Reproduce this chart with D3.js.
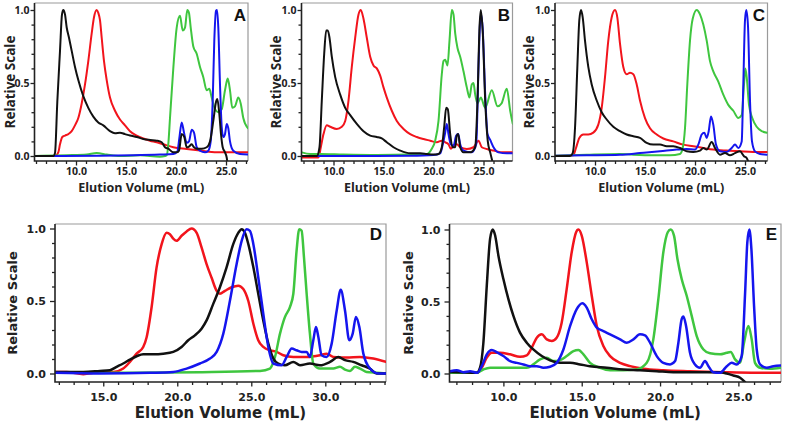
<!DOCTYPE html>
<html><head><meta charset="utf-8">
<script src="https://cdn.jsdelivr.net/npm/d3@7"></script>
<style>body{margin:0;background:#fff}</style>
</head><body><svg id="c" width="789" height="425"></svg>
<script>
// ---------- data ----------
const panelLabels = ["A","B","C","D","E"];
const xTitle = "Elution Volume (mL)";
const yTitle = "Relative Scale";
const xTicksA = [10,15,20,25], xTicksB = [10,15,20,25], xTicksC = [10,15,20,25];
const xTicksD = [15,20,25,30], xTicksE = [10,15,20,25];
const yTicks = [0,0.5,1.0];
const colors = {red:"#f2141c", green:"#3fc63f", blue:"#1515ee", black:"#111111"};

// Panel A
const aBlack = [[5.9,0],[7.73,0],[7.9,0.02],[8.13,0.37],[8.4,0.72],[8.6,0.97],[8.73,1.0],[8.9,0.97],[9.07,0.88],[9.3,0.81],[9.57,0.72],[9.9,0.61],[10.23,0.52],[10.73,0.41],[11.23,0.33],[11.73,0.27],[12.23,0.23],[12.73,0.21],[13.4,0.17],[13.9,0.155],[14.4,0.16],[14.9,0.15],[15.4,0.14],[16.07,0.13],[16.73,0.117],[17.4,0.11],[18.07,0.105],[18.57,0.094],[18.9,0.06],[19.23,0.05],[19.73,0.025],[20.07,0.025],[20.3,0.037],[20.57,0.15],[20.83,0.13],[21.07,0.06],[21.3,0.065],[21.57,0.08],[21.8,0.06],[22.07,0.05],[22.57,0.05],[23.07,0.06],[23.4,0.10],[23.73,0.24],[24.0,0.37],[24.13,0.39],[24.33,0.29],[24.5,0.15],[24.67,0.06],[24.9,0.025],[25.07,-0.01],[25.17,-0.06]];
const aRed = [[5.9,0],[7.9,0],[8.23,0.025],[8.4,0.08],[8.63,0.13],[8.9,0.14],[9.23,0.15],[9.57,0.17],[9.9,0.21],[10.23,0.26],[10.57,0.36],[10.9,0.49],[11.23,0.65],[11.57,0.84],[11.8,0.95],[12.07,1.0],[12.23,0.98],[12.4,0.93],[12.57,0.81],[12.8,0.65],[13.07,0.52],[13.4,0.40],[13.9,0.31],[14.4,0.25],[14.9,0.21],[15.4,0.17],[16.07,0.14],[16.73,0.12],[17.4,0.105],[18.07,0.094],[18.73,0.08],[19.73,0.06],[21.07,0.048],[22.4,0.037],[24.07,0.025],[25.73,0.025],[27.2,0.025]];
const aGreen = [[5.9,0],[9.07,0.005],[11.07,0.01],[12.07,0.02],[13.07,0.01],[14.4,0],[16.4,0.005],[18.4,-0.005],[18.9,0],[19.07,0.005],[19.23,0.08],[19.4,0.26],[19.73,0.6],[20.07,0.88],[20.4,0.96],[20.67,0.86],[20.9,0.88],[21.13,1.0],[21.3,0.98],[21.47,0.88],[21.73,0.75],[22.07,0.70],[22.4,0.61],[22.73,0.54],[23.07,0.45],[23.33,0.46],[23.57,0.40],[23.9,0.32],[24.23,0.30],[24.57,0.32],[24.9,0.45],[25.17,0.53],[25.4,0.45],[25.63,0.33],[25.9,0.34],[26.23,0.40],[26.47,0.36],[26.73,0.26],[27.2,0.19]];
const aBlue = [[5.9,0],[12.4,0.002],[15.73,0.005],[18.4,0.01],[19.73,0.014],[20.13,0.03],[20.33,0.12],[20.57,0.23],[20.8,0.16],[21.07,0.09],[21.3,0.10],[21.57,0.18],[21.8,0.16],[22.07,0.06],[22.4,0.036],[22.9,0.025],[23.23,0.036],[23.47,0.10],[23.67,0.38],[23.83,0.79],[24.0,0.995],[24.1,1.0],[24.23,0.88],[24.4,0.49],[24.57,0.2],[24.73,0.13],[24.9,0.15],[25.07,0.22],[25.23,0.19],[25.4,0.1],[25.73,0.036],[26.4,0.014],[27.2,0.01]];

// Panel B
const bBlack = [[6.83,0],[8.33,0],[8.6,0.06],[8.83,0.38],[9.07,0.70],[9.27,0.86],[9.43,0.86],[9.6,0.81],[9.83,0.68],[10.17,0.54],[10.67,0.42],[11.17,0.33],[11.67,0.28],[12.33,0.22],[13.0,0.17],[13.67,0.14],[14.33,0.13],[14.83,0.12],[15.33,0.094],[16.0,0.06],[16.67,0.037],[17.67,0.018],[18.67,0.018],[19.33,0.014],[20.0,0.01],[20.5,0.014],[20.83,0.06],[21.07,0.2],[21.27,0.33],[21.43,0.32],[21.67,0.15],[21.9,0.06],[22.17,0.06],[22.33,0.14],[22.47,0.15],[22.67,0.06],[23.0,0.025],[23.67,0.025],[24.17,0.06],[24.4,0.38],[24.6,0.88],[24.73,1.0],[24.93,0.84],[25.17,0.38],[25.43,0.1],[25.67,0.025],[25.9,-0.04]];
const bRed = [[6.83,-0.01],[8.5,-0.01],[8.73,0.06],[9.0,0.15],[9.33,0.21],[9.67,0.2],[10.33,0.185],[10.83,0.2],[11.17,0.24],[11.5,0.38],[11.83,0.61],[12.17,0.81],[12.5,0.97],[12.73,1.0],[13.0,0.94],[13.33,0.81],[13.67,0.68],[14.0,0.62],[14.33,0.60],[14.67,0.55],[15.0,0.47],[15.33,0.40],[15.83,0.31],[16.33,0.24],[17.0,0.185],[17.67,0.15],[18.33,0.13],[19.0,0.116],[19.67,0.105],[20.33,0.094],[20.83,0.105],[21.17,0.094],[21.5,0.08],[21.73,0.05],[22.0,0.07],[22.33,0.08],[22.67,0.06],[23.33,0.048],[24.0,0.06],[24.5,0.105],[24.83,0.06],[25.33,0.048],[26.0,0.037],[27.0,0.025],[27.93,0.025]];
const bGreen = [[6.83,0.025],[7.67,0.014],[8.67,0.014],[11.0,0.01],[14.33,0.007],[17.67,0.01],[19.33,0.014],[19.83,0.05],[20.17,0.105],[20.5,0.24],[20.83,0.56],[21.0,0.65],[21.17,0.66],[21.4,0.62],[21.6,0.79],[21.83,1.0],[22.0,0.97],[22.17,0.84],[22.4,0.74],[22.67,0.68],[23.0,0.58],[23.33,0.47],[23.6,0.40],[23.83,0.49],[24.0,0.50],[24.17,0.42],[24.4,0.36],[24.73,0.40],[25.17,0.33],[25.83,0.45],[26.4,0.34],[26.8,0.36],[27.33,0.46],[27.67,0.31],[27.93,0.22]];
const bBlue = [[6.83,0],[12.67,0],[17.67,0.002],[20.0,0.007],[20.67,0.018],[20.93,0.08],[21.17,0.16],[21.33,0.22],[21.5,0.15],[21.73,0.08],[22.0,0.07],[22.27,0.14],[22.47,0.15],[22.67,0.08],[23.0,0.037],[23.83,0.025],[24.27,0.08],[24.5,0.61],[24.67,0.93],[24.77,0.97],[24.93,0.86],[25.17,0.42],[25.4,0.15],[25.67,0.11],[26.0,0.06],[26.5,0.025],[27.33,0.018],[27.93,0.018]];

// Panel C
const cBlack = [[6.0,0],[7.5,0],[7.77,0.02],[8.0,0.19],[8.23,0.6],[8.43,0.93],[8.6,1.0],[8.77,0.95],[9.0,0.79],[9.33,0.61],[9.67,0.49],[10.17,0.38],[10.67,0.30],[11.17,0.25],[11.83,0.20],[12.5,0.17],[13.17,0.147],[13.83,0.135],[14.5,0.124],[15.17,0.09],[15.83,0.078],[16.5,0.078],[17.17,0.067],[17.83,0.067],[18.5,0.055],[19.17,0.032],[19.83,0.028],[20.5,0.037],[20.83,0.055],[21.17,0.044],[21.67,0.096],[22.0,0.055],[22.5,0.009],[23.0,0.02],[23.5,0.005],[24.0,0.02],[24.5,0.032],[24.9,-0.002],[25.17,-0.014],[25.33,-0.04]];
const cRed = [[6.0,0],[7.83,0.005],[8.1,0.055],[8.43,0.124],[8.83,0.147],[9.33,0.147],[9.83,0.16],[10.33,0.215],[10.67,0.33],[11.0,0.54],[11.33,0.79],[11.67,0.95],[12.0,1.0],[12.23,0.95],[12.5,0.77],[12.83,0.61],[13.17,0.56],[13.5,0.57],[13.83,0.56],[14.17,0.49],[14.5,0.38],[15.0,0.26],[15.5,0.19],[16.17,0.147],[16.83,0.12],[17.83,0.1],[18.83,0.078],[19.83,0.067],[20.83,0.055],[21.83,0.044],[23.17,0.037],[24.5,0.032],[25.83,0.028],[27.2,0.028]];
const cGreen = [[6.0,0.002],[9.17,0.009],[12.5,0.014],[13.83,0.009],[15.83,0.005],[17.5,0.005],[18.5,0.014],[18.77,0.055],[19.0,0.19],[19.23,0.49],[19.5,0.79],[19.77,0.94],[20.17,1.0],[20.5,0.97],[20.83,0.90],[21.17,0.79],[21.5,0.65],[21.83,0.58],[22.33,0.51],[22.83,0.42],[23.33,0.35],[23.83,0.31],[24.33,0.26],[24.67,0.28],[24.9,0.49],[25.03,0.6],[25.17,0.54],[25.4,0.35],[25.73,0.26],[26.17,0.2],[26.67,0.17],[27.2,0.16]];
const cBlue = [[6.0,0.002],[9.17,0.005],[12.5,0.009],[14.5,0.02],[16.5,0.032],[18.17,0.044],[19.17,0.048],[20.0,0.044],[20.33,0.078],[20.67,0.147],[20.93,0.16],[21.17,0.124],[21.37,0.17],[21.6,0.27],[21.83,0.215],[22.1,0.078],[22.5,0.032],[23.17,0.028],[23.67,0.055],[24.0,0.078],[24.33,0.055],[24.67,0.1],[24.83,0.49],[25.0,0.93],[25.13,1.0],[25.3,0.89],[25.5,0.38],[25.7,0.1],[26.0,0.032],[26.5,0.014],[27.2,0.009]];

// Panel D
const dRed = [[11.73,0.01],[12.52,0.01],[13.65,-0.005],[14.77,0.01],[15.68,0.01],[16.35,0.034],[16.8,0.08],[17.25,0.137],[17.7,0.183],[17.93,0.25],[18.27,0.46],[18.6,0.73],[18.94,0.89],[19.28,0.97],[19.5,0.96],[19.73,0.93],[19.95,0.915],[20.29,0.95],[20.63,0.98],[20.97,1.0],[21.31,0.97],[21.64,0.87],[21.98,0.755],[22.32,0.66],[22.66,0.57],[22.88,0.55],[23.22,0.57],[23.67,0.595],[24.12,0.606],[24.46,0.583],[24.8,0.5],[25.14,0.343],[25.47,0.229],[25.81,0.183],[26.26,0.16],[26.71,0.149],[27.16,0.126],[27.84,0.114],[28.74,0.114],[29.64,0.126],[30.09,0.137],[30.54,0.114],[31.44,0.11],[32.34,0.114],[33.24,0.103],[34.1,0.08]];
const dBlack = [[11.73,0.011],[13.65,0.011],[14.77,0.018],[15.45,0.023],[15.9,0.046],[16.35,0.069],[16.8,0.096],[17.25,0.119],[17.7,0.133],[18.38,0.133],[19.05,0.137],[19.73,0.149],[20.29,0.183],[20.74,0.229],[21.19,0.263],[21.64,0.309],[21.98,0.366],[22.43,0.48],[22.88,0.595],[23.33,0.732],[23.78,0.892],[24.12,0.97],[24.35,0.995],[24.57,0.97],[24.8,0.892],[25.14,0.732],[25.47,0.55],[25.81,0.366],[26.15,0.206],[26.49,0.103],[26.82,0.069],[27.27,0.057],[27.84,0.08],[28.29,0.057],[28.96,0.069],[29.64,0.057],[30.32,0.08],[30.88,0.114],[31.33,0.092],[31.89,0.08],[32.45,0.057],[33.02,0.034],[33.47,0.0],[34.1,0.0]];
const dBlue = [[11.73,0.005],[14.77,0],[18.15,0.005],[19.73,0.011],[20.63,0.034],[21.53,0.069],[22.21,0.103],[22.66,0.149],[23.11,0.275],[23.56,0.503],[24.01,0.755],[24.35,0.915],[24.68,0.995],[24.91,0.984],[25.14,0.892],[25.47,0.664],[25.81,0.412],[26.15,0.183],[26.49,0.069],[27.05,0.057],[27.39,0.114],[27.73,0.172],[28.06,0.16],[28.4,0.149],[28.74,0.149],[28.96,0.114],[29.19,0.229],[29.37,0.32],[29.53,0.252],[29.75,0.126],[30.09,0.114],[30.43,0.206],[30.77,0.435],[31.04,0.577],[31.33,0.435],[31.62,0.229],[31.85,0.275],[32.07,0.39],[32.3,0.32],[32.57,0.137],[33.02,0.034],[33.58,0.0],[34.1,0.0]];
const dGreen = [[11.73,0.005],[17.03,0.005],[21.53,0.009],[25.59,0.018],[26.26,0.034],[26.6,0.114],[26.94,0.275],[27.27,0.389],[27.61,0.458],[27.84,0.55],[28.06,0.847],[28.24,0.995],[28.4,0.984],[28.56,0.80],[28.74,0.55],[28.96,0.275],[29.19,0.069],[29.64,0.034],[30.09,0.034],[30.54,0.034],[30.99,0.046],[31.33,0.027],[31.67,0.018],[32.0,0.046],[32.34,0.034],[32.79,0.011],[33.47,0.005],[34.1,0]];

// Panel E
const eBlack = [[6.6,0.01],[8.3,0.005],[8.51,0.04],[8.72,0.21],[8.94,0.61],[9.15,0.935],[9.32,1.0],[9.47,0.96],[9.68,0.82],[10.0,0.656],[10.32,0.516],[10.64,0.4],[11.06,0.284],[11.49,0.214],[11.91,0.167],[12.45,0.121],[12.98,0.091],[13.62,0.074],[14.26,0.074],[14.89,0.063],[15.53,0.051],[16.6,0.04],[17.66,0.028],[18.72,0.023],[19.79,0.016],[20.85,0.009],[21.91,0.009],[22.98,0.009],[23.83,0.009],[24.26,0.0],[24.68,-0.014],[25.11,-0.03],[25.43,-0.06]];
const eRed = [[6.6,0.005],[8.3,0.005],[8.62,0.04],[8.94,0.11],[9.26,0.144],[9.79,0.144],[10.43,0.133],[11.06,0.116],[11.49,0.126],[11.81,0.179],[12.13,0.249],[12.45,0.272],[12.77,0.237],[13.09,0.226],[13.4,0.249],[13.72,0.353],[14.04,0.586],[14.36,0.842],[14.64,0.981],[14.79,1.0],[15.0,0.958],[15.32,0.772],[15.64,0.54],[15.96,0.33],[16.38,0.191],[16.81,0.121],[17.45,0.074],[18.09,0.051],[18.94,0.033],[20.21,0.023],[21.91,0.016],[24.04,0.009],[26.17,0.005],[27.72,0.005]];
const eGreen = [[6.6,0.005],[8.3,0.005],[8.72,0.028],[9.15,0.04],[10.0,0.04],[10.85,0.04],[11.49,0.04],[11.91,0.063],[12.34,0.098],[12.77,0.109],[13.19,0.086],[13.62,0.093],[14.04,0.121],[14.47,0.156],[14.79,0.163],[15.11,0.133],[15.53,0.074],[16.17,0.04],[16.81,0.023],[17.66,0.023],[18.51,0.028],[19.15,0.074],[19.57,0.237],[19.89,0.516],[20.21,0.842],[20.49,0.981],[20.68,1.0],[20.89,0.958],[21.11,0.795],[21.38,0.656],[21.7,0.54],[22.02,0.4],[22.34,0.26],[22.77,0.167],[23.19,0.14],[23.83,0.133],[24.26,0.144],[24.51,0.149],[24.79,0.098],[25.11,0.074],[25.36,0.214],[25.64,0.33],[25.85,0.237],[26.06,0.074],[26.38,0.04],[27.02,0.033],[27.72,0.04]];
const eBlue = [[6.6,0.016],[7.02,0.023],[7.45,0.009],[7.87,0.016],[8.34,0.005],[8.62,0.051],[8.94,0.133],[9.26,0.163],[9.57,0.149],[10.0,0.121],[10.43,0.086],[10.85,0.074],[11.28,0.063],[11.7,0.051],[12.13,0.051],[12.55,0.04],[12.98,0.047],[13.4,0.074],[13.83,0.167],[14.26,0.33],[14.68,0.447],[15.04,0.488],[15.32,0.458],[15.64,0.377],[15.96,0.319],[16.38,0.295],[16.81,0.272],[17.45,0.237],[17.87,0.214],[18.3,0.237],[18.72,0.272],[19.04,0.265],[19.36,0.214],[19.79,0.121],[20.21,0.074],[20.64,0.063],[20.96,0.086],[21.17,0.214],[21.38,0.377],[21.49,0.395],[21.66,0.33],[21.91,0.144],[22.23,0.063],[22.55,0.04],[22.87,0.086],[23.09,0.051],[23.4,0.009],[23.83,0.005],[24.26,0.051],[24.57,0.074],[24.89,0.063],[25.21,0.121],[25.43,0.563],[25.57,0.91],[25.7,1.0],[25.83,0.865],[26.0,0.47],[26.17,0.167],[26.38,0.063],[26.81,0.04],[27.23,0.051],[27.72,0.056]];

// ---------- drawing ----------
const svg = d3.select("#c");
const fontABC = "'Open Sans', sans-serif";
const fontDE = "'DejaVu Sans', Verdana, sans-serif";

const panels = [
  {name:"A", L:34.5, R:248, T:3, B:161, xDom:[5.85,27.2], y0:156, y1:10, xTicks:xTicksA,
   series:[[aRed,colors.red],[aGreen,colors.green],[aBlue,colors.blue],[aBlack,colors.black]],
   lw:2, font:fontABC, tickFs:10.5, xtFs:12.5, ytFs:13.5, ytX:15, xtY:192, xPad:2.5, lblX:246, lblY:21, lblFs:17, yTick:4, yPad:1},
  {name:"B", L:301.5, R:512.5, T:3, B:161, xDom:[6.8,27.9], y0:156, y1:10, xTicks:xTicksB,
   series:[[bRed,colors.red],[bGreen,colors.green],[bBlue,colors.blue],[bBlack,colors.black]],
   lw:2, font:fontABC, tickFs:10.5, xtFs:12.5, ytFs:13.5, ytX:281, xtY:192, xPad:2.5, lblX:510, lblY:21, lblFs:17, yTick:4, yPad:1},
  {name:"C", L:555, R:767.5, T:3, B:161, xDom:[6.0,27.25], y0:156, y1:10, xTicks:xTicksC,
   series:[[cRed,colors.red],[cGreen,colors.green],[cBlue,colors.blue],[cBlack,colors.black]],
   lw:2, font:fontABC, tickFs:10.5, xtFs:12.5, ytFs:13.5, ytX:534, xtY:192, xPad:2.5, lblX:765, lblY:21, lblFs:17, yTick:4, yPad:1},
  {name:"D", L:55, R:386, T:224, B:382, xDom:[11.74,34.1], y0:373.5, y1:228.5, xTicks:xTicksD,
   series:[[dRed,colors.red],[dGreen,colors.green],[dBlack,colors.black],[dBlue,colors.blue]],
   lw:2.5, font:fontDE, tickFs:11, xtFs:15, ytFs:13, ytX:17, xtY:418, xPad:7, lblX:382, lblY:240, lblFs:17, yTick:5, yPad:4},
  {name:"E", L:449.5, R:781, T:224, B:382, xDom:[6.56,27.72], y0:373.5, y1:229.5, xTicks:xTicksE,
   series:[[eRed,colors.red],[eGreen,colors.green],[eBlack,colors.black],[eBlue,colors.blue]],
   lw:2.5, font:fontDE, tickFs:11, xtFs:15, ytFs:13, ytX:413, xtY:418, xPad:7, lblX:777, lblY:240, lblFs:17, yTick:5, yPad:4}
];

const defs = svg.append("defs");

panels.forEach((p, i) => {
  const g = svg.append("g");
  const x = d3.scaleLinear().domain(p.xDom).range([p.L, p.R]);
  const y = d3.scaleLinear().domain([0,1]).range([p.y0, p.y1]);
  const cid = "clip" + p.name;
  defs.append("clipPath").attr("id", cid).append("rect")
    .attr("x", p.L).attr("y", p.T).attr("width", p.R - p.L).attr("height", p.B - p.T);

  // gray frame top/right
  g.append("path").attr("d", `M${p.L},${p.T}H${p.R}V${p.B}`)
    .attr("fill","none").attr("stroke","#9a9a9a").attr("stroke-width",1.2);

  const line = d3.line().x(d => x(d[0])).y(d => y(d[1])).curve(d3.curveMonotoneX);
  p.series.forEach(([data, col]) => {
    g.append("path").datum(data).attr("d", line).attr("clip-path", `url(#${cid})`)
      .attr("fill","none").attr("stroke", col).attr("stroke-width", p.lw)
      .attr("stroke-linejoin","round").attr("stroke-linecap","round");
  });

  // axes
  const minorX = d3.range(Math.ceil(p.xDom[0]), Math.floor(p.xDom[1]) + 1).filter(v => v % 5 !== 0);
  const minorY = d3.range(1, 10).filter(v => v !== 5).map(v => v / 10);

  const gxm = g.append("g").attr("transform", `translate(0,${p.B})`)
    .call(d3.axisBottom(x).tickValues(minorX).tickSize(3).tickFormat(""));
  const gx = g.append("g").attr("transform", `translate(0,${p.B})`)
    .call(d3.axisBottom(x).tickValues(p.xTicks).tickSize(4.5).tickPadding(p.xPad).tickFormat(d3.format(".1f")));
  const gym = g.append("g").attr("transform", `translate(${p.L},0)`)
    .call(d3.axisLeft(y).tickValues(minorY).tickSize(3).tickFormat(""));
  const gy = g.append("g").attr("transform", `translate(${p.L},0)`)
    .call(d3.axisLeft(y).tickValues(yTicks).tickSize(p.yTick).tickPadding(p.yPad).tickFormat(d3.format(".1f")));
  [gxm, gx, gym, gy].forEach(a => {
    a.select(".domain").remove();
    a.selectAll(".tick line").attr("stroke", "#222").attr("stroke-width", 1.3);
    a.selectAll("text").attr("font-family", p.font).attr("font-size", p.tickFs)
      .attr("font-weight", "bold").attr("fill", "#222");
  });

  // black axis lines
  g.append("path").attr("d", `M${p.L},${p.T}V${p.B}H${p.R}`)
    .attr("fill","none").attr("stroke","#222").attr("stroke-width",1.6);

  // titles
  g.append("text").attr("x", (p.L + p.R) / 2).attr("y", p.xtY).attr("text-anchor","middle")
    .attr("font-family", p.font).attr("font-size", p.xtFs).attr("font-weight","bold")
    .attr("fill","#222").text(xTitle);
  g.append("text").attr("transform", `translate(${p.ytX},${(p.T + p.B) / 2}) rotate(-90)`)
    .attr("text-anchor","middle").attr("font-family", p.font).attr("font-size", p.ytFs)
    .attr("font-weight","bold").attr("fill","#222").text(yTitle);
  g.append("text").attr("x", p.lblX).attr("y", p.lblY).attr("text-anchor","end")
    .attr("font-family","'Liberation Sans', Arial, sans-serif").attr("font-size", p.lblFs)
    .attr("font-weight","bold").attr("fill","#111").text(panelLabels[i]);
});
</script>
</body></html>
